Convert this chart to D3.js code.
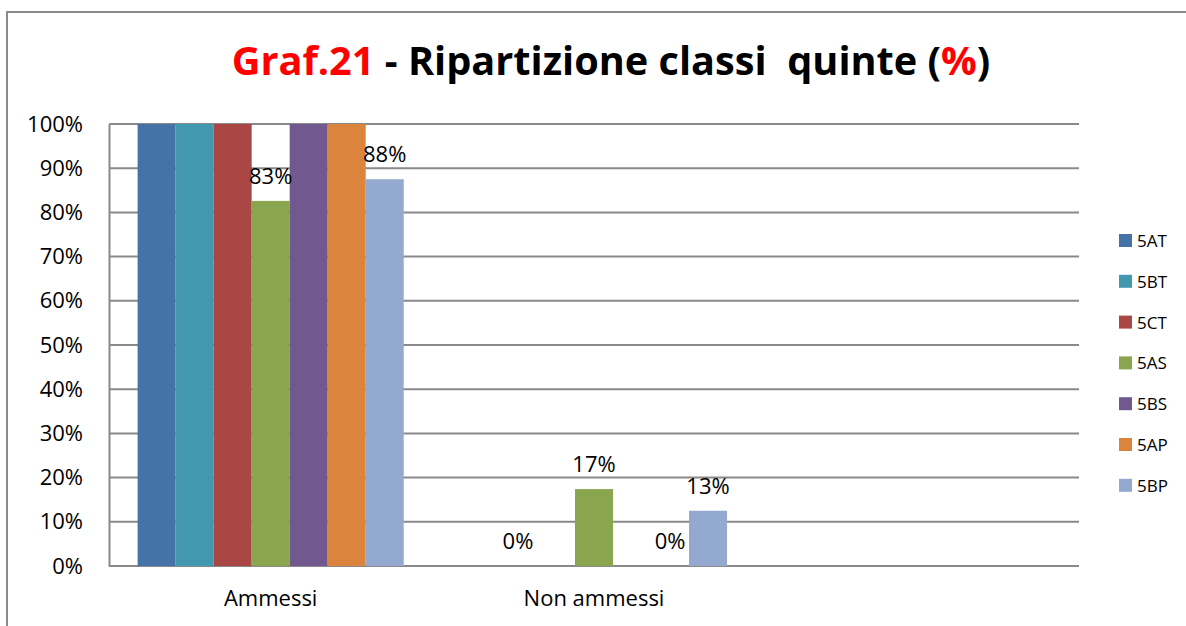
<!DOCTYPE html>
<html lang="it">
<head>
<meta charset="utf-8">
<title>Graf.21 - Ripartizione classi quinte</title>
<script src="https://d3js.org/d3.v7.min.js"></script>
<style>
  body { margin: 0; background: #fff; }
  text { font-family: "Open Sans", "Noto Sans", sans-serif; fill: #000; }
</style>
</head>
<body>
<div id="chart"></div>
<script>
// data
var categories = ["Ammessi", "Non ammessi", ""];
var series = ["5AT", "5BT", "5CT", "5AS", "5BS", "5AP", "5BP"];
var ammessi = [100, 100, 100, 82.6, 100, 100, 87.5];
var nonAmmessi = [null, 0, null, 17.4, null, 0, 12.5];
var colors = ["#4572A7", "#4198AF", "#AA4643", "#89A54E", "#71588F", "#DB843D", "#93A9CF"];
var yTicks = [0, 10, 20, 30, 40, 50, 60, 70, 80, 90, 100];

var values = [ammessi, nonAmmessi, []];

var W = 1186, H = 626;
var margin = { top: 124, right: 107, bottom: 60, left: 109 };

var svg = d3.select("#chart").append("svg")
    .attr("width", W)
    .attr("height", H);

// outer frame (runs off the right and bottom edge)
svg.append("rect")
    .attr("x", 7).attr("y", 12)
    .attr("width", W + 20).attr("height", H + 20)
    .attr("fill", "none")
    .attr("stroke", "#8a8a8a")
    .attr("stroke-width", 2);

// title, shrunk to the width it has in the original
var title = svg.append("text")
    .attr("x", 611)
    .attr("y", 75)
    .attr("text-anchor", "middle")
    .style("font-weight", "bold")
    .style("font-size", "40px");
title.append("tspan").style("fill", "#ff0000").text("Graf.21");
title.append("tspan").text(" - Ripartizione classi\u00a0 quinte (");
title.append("tspan").style("fill", "#ff0000").text("%");
title.append("tspan").text(")");
var tw = title.node().getComputedTextLength();
if (tw > 758) title.style("font-size", (40 * 758 / tw).toFixed(1) + "px");

var plotW = W - margin.left - margin.right,
    plotH = H - margin.top - margin.bottom;

var g = svg.append("g").attr("transform", "translate(" + margin.left + "," + margin.top + ")");

var x0 = d3.scaleBand().domain(categories).range([0, plotW]);
var x1 = d3.scaleBand().domain(series).range([x0.bandwidth() * 0.0885, x0.bandwidth() * 0.9115]);
var y = d3.scaleLinear().domain([0, 100]).range([442, 0]);

// gridlines
g.selectAll(".grid").data(yTicks).enter().append("line")
    .attr("x1", 0).attr("x2", plotW)
    .attr("y1", function (d) { return y(d); })
    .attr("y2", function (d) { return y(d); })
    .attr("stroke", "#8a8a8a")
    .attr("stroke-width", 2);

// y axis
var yAxis = g.append("g")
    .call(d3.axisLeft(y).tickValues(yTicks).tickSize(0).tickPadding(26)
        .tickFormat(function (d) { return d + "%"; }));
yAxis.select(".domain").attr("stroke", "#8a8a8a").attr("stroke-width", 2);
yAxis.selectAll("text").style("font-size", "22px").attr("fill", "#000");

// x axis labels
var xAxis = g.append("g")
    .attr("transform", "translate(0," + y(0) + ")")
    .call(d3.axisBottom(x0).tickSize(0).tickPadding(24));
xAxis.select(".domain").remove();
xAxis.selectAll("text").style("font-size", "22px").attr("fill", "#000");

// bars
var cells = [];
categories.forEach(function (c, ci) {
  series.forEach(function (s, si) {
    var v = values[ci][si];
    if (v !== undefined && v !== null) cells.push({ cat: c, s: s, i: si, v: v });
  });
});

g.selectAll(".bar").data(cells).enter().append("rect")
    .attr("x", function (d) { return x0(d.cat) + x1(d.s); })
    .attr("width", x1.bandwidth())
    .attr("y", function (d) { return y(d.v); })
    .attr("height", function (d) { return y(0) - y(d.v); })
    .attr("fill", function (d) { return colors[d.i]; });

// data labels (only the ones shown in the original)
g.selectAll(".lbl").data(cells.filter(function (d) { return d.v < 100; })).enter().append("text")
    .attr("x", function (d) { return x0(d.cat) + x1(d.s) + x1.bandwidth() / 2; })
    .attr("y", function (d) { return y(d.v) - 17; })
    .attr("text-anchor", "middle")
    .style("font-size", "22px")
    .text(function (d) { return Math.round(d.v) + "%"; });

// legend
var legend = svg.selectAll(".legend").data(series).enter().append("g")
    .attr("transform", function (d, i) { return "translate(1119," + (234 + i * 40.8) + ")"; });
legend.append("rect")
    .attr("width", 13).attr("height", 13)
    .attr("fill", function (d, i) { return colors[i]; });
legend.append("text")
    .attr("x", 18).attr("y", 13)
    .style("font-size", "17px")
    .text(function (d) { return d; });
</script>
</body>
</html>
